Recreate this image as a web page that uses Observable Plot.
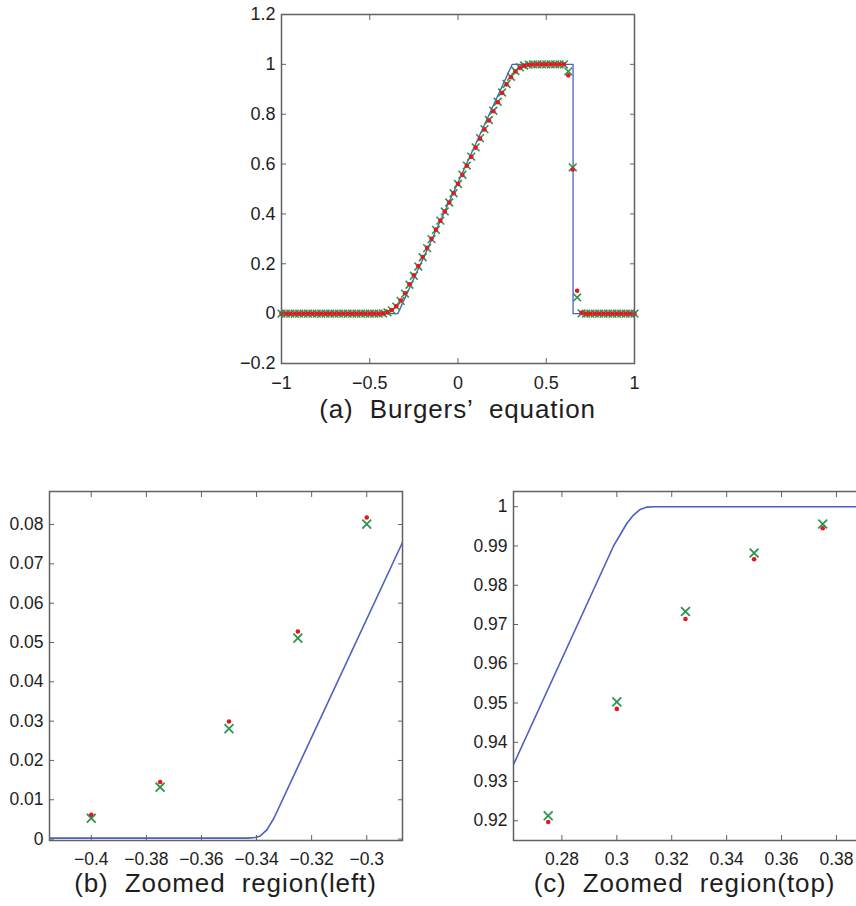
<!DOCTYPE html>
<html>
<head>
<meta charset="utf-8">
<script src="https://cdn.jsdelivr.net/npm/d3@7"></script>
<script src="https://cdn.jsdelivr.net/npm/@observablehq/plot@0.6"></script>
<style>
  html, body { margin: 0; padding: 0; background: #fff; }
  #page { position: relative; width: 856px; height: 906px; overflow: hidden; background: #fff; }
  .panel { position: absolute; }
  .cap { position: absolute; width: 440px; text-align: center; font-family: "Liberation Sans", Arial, Helvetica, sans-serif;
         font-size: 26px; line-height: 30px; color: #1e1e1e; letter-spacing: 0.9px; word-spacing: 8px; white-space: nowrap; }
</style>
</head>
<body>
<div id="page"></div>
<script>
// ---------- data ----------
const markerX = [-1,-0.975,-0.95,-0.925,-0.9,-0.875,-0.85,-0.825,-0.8,-0.775,-0.75,-0.725,-0.7,-0.675,-0.65,-0.625,-0.6,-0.575,-0.55,-0.525,-0.5,-0.475,-0.45,
  -0.425,-0.4,-0.375,-0.35,-0.325,-0.3,-0.275,-0.25,-0.225,-0.2,-0.175,-0.15,-0.125,-0.1,-0.075,-0.05,-0.025,0,0.025,0.05,0.075,0.1,0.125,0.15,0.175,0.2,0.225,0.25,
  0.275,0.3,0.325,0.35,0.375,0.4,0.425,0.45,0.475,0.5,0.525,0.55,0.575,0.6,0.625,0.65,0.675,0.7,
  0.725,0.75,0.775,0.8,0.825,0.85,0.875,0.9,0.925,0.95,0.975,1];
const redY = [0,0,0,0,0,0,0,0,0,0,0,0,0,0,0,0,0,0,0,0,0,0,0,
  0.001,0.0062,0.0145,0.0299,0.0528,0.0818,0.118,0.154,0.191,0.227,0.264,0.300,0.337,0.373,0.410,0.446,0.483,0.520,0.556,0.593,0.629,0.666,0.702,0.739,0.775,0.812,0.848,0.885,
  0.9197,0.9485,0.9714,0.9866,0.9945,0.9985,0.9997,1,1,1,1,1,1,1,0.956,0.578,0.092,0.003,
  0,0,0,0,0,0,0,0,0,0,0,0];
const greenY = [0,0,0,0,0,0,0,0,0,0,0,0,0,0,0,0,0,0,0,0,0,0,0,
  0.001,0.0053,0.0132,0.0281,0.0511,0.0801,0.116,0.152,0.189,0.226,0.263,0.299,0.336,0.373,0.410,0.446,0.483,0.520,0.557,0.594,0.630,0.667,0.704,0.740,0.777,0.814,0.850,0.887,
  0.9213,0.9503,0.9733,0.9882,0.9956,0.9990,0.9999,1,1,1,1,1,1,1,0.972,0.587,0.065,0.001,
  0,0,0,0,0,0,0,0,0,0,0,0];

// reference (fine-grid) solution, read per panel
const lineAX = [-1, -0.341, 0.307, 0.652, 0.652, 1];
const lineAY = [0, 0, 1, 1, 0, 0];
const lineBX = [-0.4152, -0.343, -0.3405, -0.3386, -0.3362, -0.3337, -0.287];
const lineBY = [0.00025, 0.00025, 0.0004, 0.0008, 0.0024, 0.0053, 0.0755];
const lineCX = [0.2624, 0.2988, 0.3010, 0.3035, 0.306, 0.3085, 0.311, 0.314, 0.391];
const lineCY = [0.9344, 0.990, 0.9926, 0.9956, 0.9978, 0.9993, 0.9999, 1.0, 1.0];

// axes
const aXTicks = [-1, -0.5, 0, 0.5, 1];
const aYTicks = [-0.2, 0, 0.2, 0.4, 0.6, 0.8, 1, 1.2];
const bXTicks = [-0.4, -0.38, -0.36, -0.34, -0.32, -0.3];
const bYTicks = [0, 0.01, 0.02, 0.03, 0.04, 0.05, 0.06, 0.07, 0.08];
const cXTicks = [0.28, 0.3, 0.32, 0.34, 0.36, 0.38];
const cYTicks = [0.92, 0.93, 0.94, 0.95, 0.96, 0.97, 0.98, 0.99, 1];
const aXDomain = [-1, 1], aYDomain = [-0.2, 1.2];
const bXDomain = [-0.41516, -0.28702], bYDomain = [-0.00036, 0.0884];
const cXDomain = [0.26236, 0.39094], cYDomain = [0.91499, 1.00387];

const captions = ["(a) Burgers’ equation", "(b) Zoomed region(left)", "(c) Zoomed region(top)"];

// ---------- styles ----------
const BLUE = "#4d60c0", RED = "#e8161e", GREEN = "#2b9550", FRAME = "#626262", TEXT = "#1e1e1e";
const fmt = d => (d < 0 ? "\u2212" : "") + String(Math.abs(+(+d).toFixed(6)));
const blank = () => "";

const pts = markerX.map((x, i) => ({x, r: redY[i], g: greenY[i]}));
const toLine = (xs, ys) => xs.map((x, i) => ({x, y: ys[i]}));

function panel(o) {
  const clip = o.clip;
  return Plot.plot({
    width: o.width, height: o.height,
    marginLeft: o.mL, marginRight: o.mR, marginTop: o.mT, marginBottom: o.mB,
    x: {domain: o.xDomain},
    y: {domain: o.yDomain},
    style: {fontFamily: "'Liberation Sans', Arial, Helvetica, sans-serif", fontSize: o.fs + "px", color: TEXT, background: "transparent", overflow: "visible"},
    marks: [
      Plot.line(o.line, {x: "x", y: "y", stroke: BLUE, strokeWidth: o.lw, clip}),
      Plot.dot(pts, {x: "x", y: "g", symbol: "times", r: o.xr, stroke: GREEN, strokeWidth: o.xw, clip}),
      Plot.dot(pts, {x: "x", y: "r", r: o.dr, fill: RED, stroke: "none", clip}),
      Plot.frame({stroke: FRAME, strokeWidth: 1.5}),
      Plot.axisX({ticks: o.xTicks, anchor: "bottom", tickSize: -5, tickPadding: o.xPad, tickFormat: fmt, label: null, stroke: FRAME, fill: TEXT}),
      Plot.axisX({ticks: o.xTicks, anchor: "top", tickSize: -5, tickFormat: blank, label: null, stroke: FRAME}),
      Plot.axisY({ticks: o.yTicks, anchor: "left", tickSize: -5, tickPadding: 11, tickFormat: fmt, label: null, stroke: FRAME, fill: TEXT}),
      Plot.axisY({ticks: o.yTicks, anchor: "right", tickSize: -5, tickFormat: blank, label: null, stroke: FRAME})
    ]
  });
}

const page = document.getElementById("page");
function place(node, left, top) {
  node.classList.add("panel");
  node.style.left = left + "px";
  node.style.top = top + "px";
  page.appendChild(node);
}
function caption(text, cx, top) {
  const d = document.createElement("div");
  d.className = "cap";
  d.textContent = text;
  d.style.left = (cx - 220) + "px";
  d.style.top = top + "px";
  page.appendChild(d);
}

// (a)
place(panel({width: 438, height: 403, mL: 55, mR: 30, mT: 14, mB: 40, fs: 18, xPad: 18,
  xDomain: aXDomain, yDomain: aYDomain, xTicks: aXTicks, yTicks: aYTicks,
  line: toLine(lineAX, lineAY), clip: false, lw: 1.3, xr: 3.6, xw: 1.6, dr: 2.3}), 226, 0);
caption(captions[0], 457.5, 394);

// (b)
place(panel({width: 422, height: 394, mL: 49, mR: 20, mT: 10, mB: 35, fs: 17.5, xPad: 17,
  xDomain: bXDomain, yDomain: bYDomain, xTicks: bXTicks, yTicks: bYTicks,
  line: toLine(lineBX, lineBY), clip: true, lw: 1.6, xr: 4.1, xw: 1.8, dr: 2.3}), 0, 481);
caption(captions[1], 225.5, 867.5);

// (c)
place(panel({width: 433, height: 394, mL: 60, mR: 20, mT: 10, mB: 35, fs: 17.5, xPad: 17,
  xDomain: cXDomain, yDomain: cYDomain, xTicks: cXTicks, yTicks: cYTicks,
  line: toLine(lineCX, lineCY), clip: true, lw: 1.6, xr: 4.1, xw: 1.8, dr: 2.3}), 453, 481);
caption(captions[2], 684.5, 867.5);
</script>
</body>
</html>
